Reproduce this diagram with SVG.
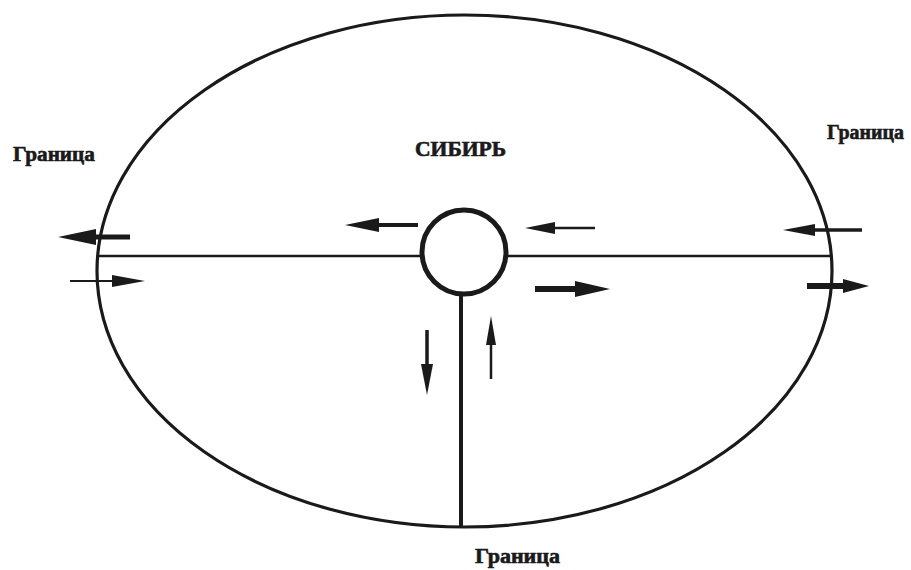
<svg xmlns="http://www.w3.org/2000/svg" width="911" height="570" viewBox="0 0 911 570">
<style>
text{font-family:"Liberation Serif","DejaVu Serif",serif;font-weight:bold;font-size:20px;fill:#1a1a1a;stroke:#1a1a1a;stroke-width:0.6}
.ln{stroke:#1a1a1a;fill:none}
.hd{fill:#1a1a1a}
</style>
<rect width="911" height="570" fill="#fff"/>
<g id="region">
<ellipse class="ln" cx="464.5" cy="271" rx="367.5" ry="256" stroke-width="3.2"/>
</g>
<g id="center">
<circle class="ln" cx="464" cy="252" r="42" stroke-width="5"/>
</g>
<g id="labels">
<text x="415" y="156" textLength="91" lengthAdjust="spacingAndGlyphs" font-family="Liberation Serif, DejaVu Serif, serif">СИБИРЬ</text>
<text x="13" y="161" textLength="82" lengthAdjust="spacingAndGlyphs" font-family="Liberation Serif, DejaVu Serif, serif">Граница</text>
<text x="827" y="139" textLength="77" lengthAdjust="spacingAndGlyphs" font-family="Liberation Serif, DejaVu Serif, serif">Граница</text>
<text x="475" y="563" textLength="85" lengthAdjust="spacingAndGlyphs" font-family="Liberation Serif, DejaVu Serif, serif">Граница</text>
</g>
<g id="connectors">
<line class="ln" x1="98" y1="256" x2="422" y2="256" stroke-width="2.5"/>
<line class="ln" x1="506" y1="256" x2="832" y2="256" stroke-width="2.5"/>
<line class="ln" x1="461" y1="294" x2="461" y2="528" stroke-width="4"/>
</g>
<g id="arrows">
<path d="M130,237 L88,237" class="ln" stroke-width="5"/>
<path d="M96,229 L58,237 L96,245 Z" class="hd"/>
<path d="M70,281 L115,281" class="ln" stroke-width="2"/>
<path d="M112,275 L145,281 L112,287 Z" class="hd"/>
<path d="M418,225 L375,225" class="ln" stroke-width="4"/>
<path d="M379,218 L345,225 L379,232 Z" class="hd"/>
<path d="M595,228 L550,228" class="ln" stroke-width="2.5"/>
<path d="M555,222 L525,228 L555,234 Z" class="hd"/>
<path d="M535,289 L580,289" class="ln" stroke-width="6"/>
<path d="M575,281 L610,289 L575,297 Z" class="hd"/>
<path d="M862,230 L810,230" class="ln" stroke-width="3.5"/>
<path d="M815,224 L783,230 L815,236 Z" class="hd"/>
<path d="M807,286 L848,286" class="ln" stroke-width="6"/>
<path d="M843,279 L869,286 L843,293 Z" class="hd"/>
<path d="M427,330 L427,370" class="ln" stroke-width="3.5"/>
<path d="M421,364 L427,395 L433,364 Z" class="hd"/>
<path d="M491,379 L491,340" class="ln" stroke-width="2.5"/>
<path d="M486,345 L491,316 L496,345 Z" class="hd"/>
</g>
</svg>
